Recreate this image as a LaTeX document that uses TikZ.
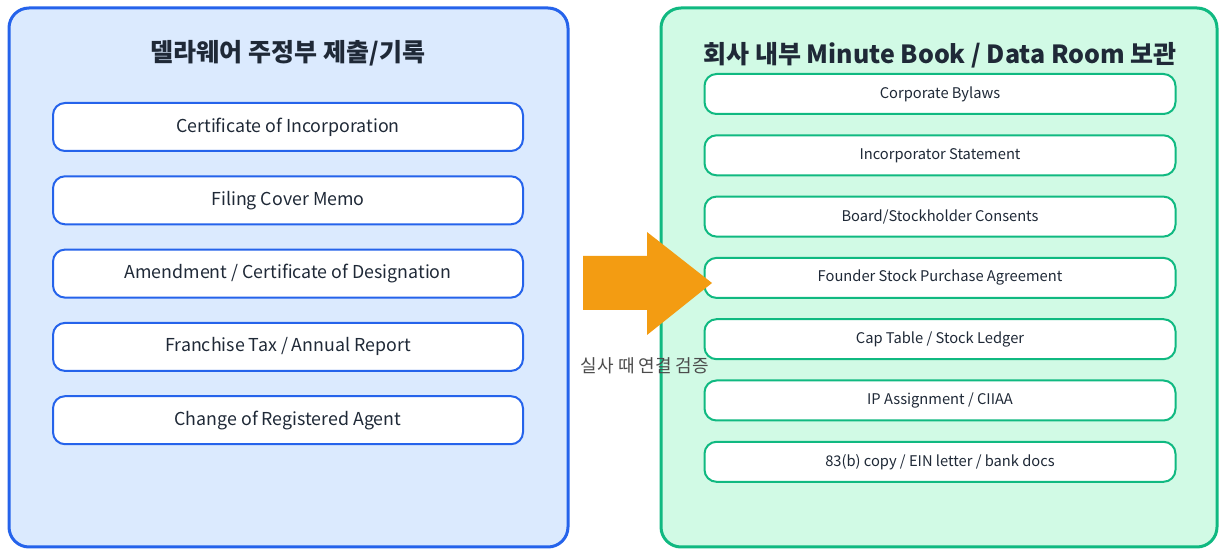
\documentclass[tikz,border=0pt]{standalone}
\usepackage{fontspec}
\setmainfont{Noto Sans CJK KR}
\usetikzlibrary{positioning}

\definecolor{leftfill}{HTML}{DBEAFE}
\definecolor{leftline}{HTML}{2563EB}
\definecolor{rightfill}{HTML}{D1FAE5}
\definecolor{rightline}{HTML}{10B981}
\definecolor{arrowfill}{HTML}{F39C12}
\definecolor{textdark}{HTML}{1F2937}

\begin{document}
\begin{tikzpicture}[x=1pt, y=1pt, text=textdark,
    panel/.style={draw, line width=3pt, rounded corners=20pt},
    title/.style={font=\fontsize{25}{29}\selectfont\bfseries},
    leftdoc/.style={draw=leftline, fill=white, line width=2pt, rounded corners=12pt,
        minimum width=470pt, minimum height=48pt, font=\fontsize{17.8}{21}\selectfont},
    rightdoc/.style={draw=rightline, fill=white, line width=2pt, rounded corners=12pt,
        minimum width=471pt, minimum height=40pt, font=\fontsize{14.7}{18}\selectfont}]
            \useasboundingbox (0,0) rectangle (1219,549);

            % two panels
            \draw[panel, draw=leftline, fill=leftfill] (9,2) rectangle (568,541);
            \draw[panel, draw=rightline, fill=rightfill] (661,2) rectangle (1217,541);

            \node (delaware) [title] at (288,496) {델라웨어 주정부 제출/기록};
            \node (minutebook) [title] at (940,494) {회사 내부 Minute Book / Data Room 보관};

            % filings
            \node (cert)  [leftdoc] at (288,422) {Certificate of Incorporation};
            \node (memo)  [leftdoc, below=23.3pt of cert] {Filing Cover Memo};
            \node (amend) [leftdoc, below=23.3pt of memo] {Amendment / Certificate of Designation};
            \node (tax)   [leftdoc, below=23.3pt of amend] {Franchise Tax / Annual Report};
            \node (agent) [leftdoc, below=23.3pt of tax] {Change of Registered Agent};

            % internal records
            \node (bylaws)   [rightdoc] at (940,455) {Corporate Bylaws};
            \node (incstmt)  [rightdoc, below=19.3pt of bylaws] {Incorporator Statement};
            \node (consents) [rightdoc, below=19.3pt of incstmt] {Board/Stockholder Consents};
            \node (founder)  [rightdoc, below=19.3pt of consents] {Founder Stock Purchase Agreement};
            \node (captable) [rightdoc, below=19.3pt of founder] {Cap Table / Stock Ledger};
            \node (ipassign) [rightdoc, below=19.3pt of captable] {IP Assignment / CIIAA};
            \node (bankdocs) [rightdoc, below=19.3pt of ipassign] {83(b) copy / EIN letter / bank docs};

            % big arrow
            \fill[arrowfill] (583,239) -- (583,293) -- (647,293) -- (647,317)
                -- (712,266) -- (647,214) -- (647,239) -- cycle;
            \node (verify) [text=black!70, font=\fontsize{18}{21}\selectfont] at (645,183) {실사 때 연결 검증};
            \end{tikzpicture}
\end{document}
